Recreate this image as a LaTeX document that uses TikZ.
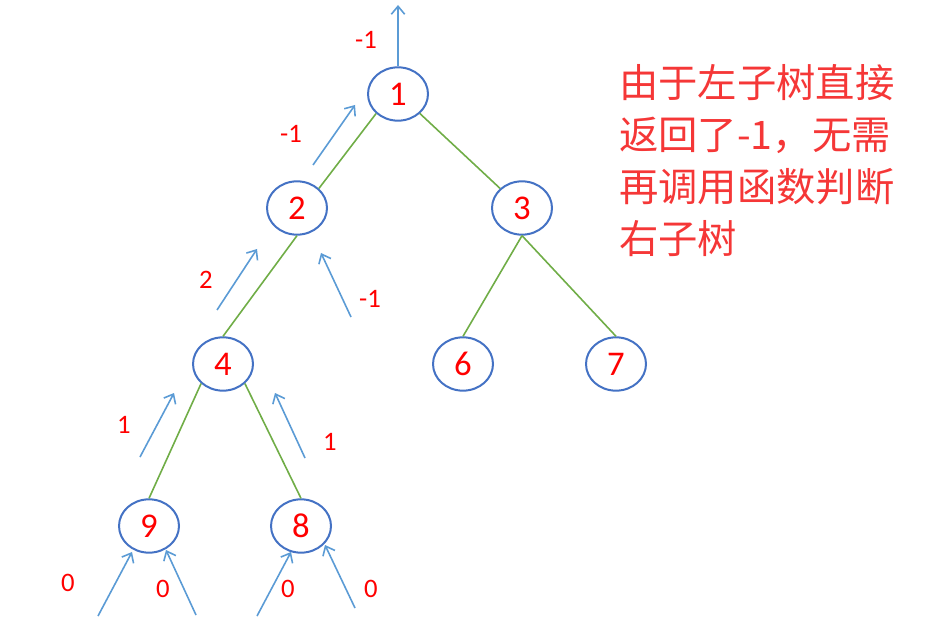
\documentclass[tikz,border=0pt]{standalone}
\usepackage{fontspec}
\setmainfont{Carlito}
\newfontfamily\cjk{Noto Sans CJK SC}
\usepackage{tikz}
\usetikzlibrary{arrows.meta,positioning,shapes.geometric}
\definecolor{ringblue}{HTML}{4472C4}
\definecolor{edgegreen}{HTML}{70AD47}
\definecolor{retblue}{HTML}{5B9BD5}
\definecolor{notered}{RGB}{245,55,55}

\begin{document}
\begin{tikzpicture}[
  x=0.75pt,y=-0.75pt,
  tnode/.style={draw=ringblue,ellipse,line width=1.5pt,minimum width=45pt,minimum height=40pt,inner sep=0pt,text=red,font=\fontsize{26}{26}\selectfont},
  edge/.style={draw=edgegreen,line width=1.2pt},
  ret/.style={draw=retblue,line width=1.2pt,-{Straight Barb[length=6pt,width=10pt,line width=1.2pt]}},
  val/.style={text=red,font=\fontsize{20}{20}\selectfont}
]
\useasboundingbox (0,0) rectangle (930,634);
% tree
\node[tnode] (n1) at (398,94) {1};
\node[tnode] (n2) at (297,208) {2};
\node[tnode] (n3) at (522,208) {3};
\node[tnode] (n4) at (223,364) {4};
\node[tnode] (n6) at (463,364) {6};
\node[tnode] (n7) at (616,364) {7};
\node[tnode] (n9) at (149,526) {9};
\node[tnode] (n8) at (301,526) {8};
\draw[edge] (n1.south west) -- (n2.north east);
\draw[edge] (n1.south east) -- (n3.north west);
\draw[edge] (n2.south) -- (n4.north);
\draw[edge] (n3.south) -- (n6.north);
\draw[edge] (n3.south) -- (n7.north);
\draw[edge] (n4.south west) -- (n9.north);
\draw[edge] (n4.south east) -- (n8.north);
% return values
\coordinate (top) at (398,5);
\coordinate (r1a) at (313,165);  \coordinate (r1b) at (355,105);
\coordinate (r2a) at (217,310);  \coordinate (r2b) at (257,249);
\coordinate (r3a) at (351,317);  \coordinate (r3b) at (321,253);
\coordinate (r4a) at (140,457);  \coordinate (r4b) at (174,393);
\coordinate (r5a) at (305,458);  \coordinate (r5b) at (275,393);
\coordinate (r6a) at (98,616);   \coordinate (r6b) at (132,552);
\coordinate (r7a) at (196,615);  \coordinate (r7b) at (166,550);
\coordinate (r8a) at (257,616);  \coordinate (r8b) at (291,552);
\coordinate (r9a) at (355,608);  \coordinate (r9b) at (325,545);
\draw[ret] (n1.north) -- (top);
\draw[ret] (r1a) -- (r1b);
\draw[ret] (r2a) -- (r2b);
\draw[ret] (r3a) -- (r3b);
\draw[ret] (r4a) -- (r4b);
\draw[ret] (r5a) -- (r5b);
\draw[ret] (r6a) -- (r6b);
\draw[ret] (r7a) -- (r7b);
\draw[ret] (r8a) -- (r8b);
\draw[ret] (r9a) -- (r9b);
\node[val] (v0) at (366,40) {-1};
\node[val] (v1) at (291,134) {-1};
\node[val] (v2) at (206,280) {2};
\node[val] (v3) at (370,299) {-1};
\node[val] (v4) at (124,425) {1};
\node[val] (v5) at (330,442) {1};
\node[val] (v6) at (68,583) {0};
\node[val] (v7) at (163,589) {0};
\node[val] (v8) at (288,589) {0};
\node[val] (v9) at (371,589) {0};
% note
\node[anchor=north west,align=left,inner sep=0pt,text=notered,font=\cjk\fontsize{29.5}{39}\selectfont] (note) at (619,64)
  {由于左子树直接\\返回了-1，无需\\再调用函数判断\\右子树};
\end{tikzpicture}
\end{document}
